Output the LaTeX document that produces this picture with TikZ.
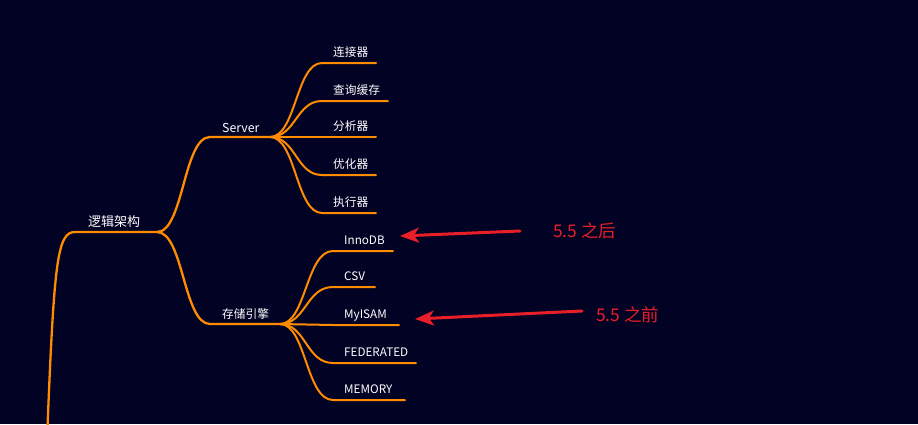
\documentclass[tikz,border=0pt]{standalone}
\usepackage{fontspec}
\setmainfont{Noto Sans CJK SC}
\usetikzlibrary{arrows.meta}
\definecolor{bg}{RGB}{2,2,36}
\definecolor{brc}{RGB}{255,140,0}
\definecolor{rdc}{RGB}{232,30,40}
\begin{document}
\begin{tikzpicture}[x=1pt,y=-1pt,
  branch/.style={draw=brc,line width=2.3pt,line cap=round},
  leaf/.style={draw=brc,line width=2pt,line cap=round},
  lbl/.style={anchor=base west,inner sep=0pt,text=white,font=\fontsize{11.7}{13}\selectfont},
  biglbl/.style={anchor=base west,inner sep=0pt,text=white,font=\fontsize{13}{15}\selectfont},
  note/.style={anchor=base west,inner sep=0pt,text=rdc,font=\fontsize{17.5}{19}\selectfont},
  pointer/.style={draw=rdc,line width=3pt,line cap=round,-{Stealth[length=19pt,width=15pt,inset=5pt]}}]
\useasboundingbox (0,0) rectangle (918,424);
\fill[bg] (0,0) rectangle (918,424);
\clip (0,0) rectangle (918,424);

% coordinates
\coordinate (r0) at (47,440);
\coordinate (r1) at (75,232);
\coordinate (r2) at (157,232);
\coordinate (s1) at (210,137);
\coordinate (s2) at (270,137);
\coordinate (e1) at (210,324);
\coordinate (e2) at (280,324);

% root and first level
\draw[branch] (r0) .. controls (54,262) and (57,232) .. (r1) -- (r2);
\draw[branch] (r2) .. controls (183.5,232) and (183.5,137) .. (s1) -- (s2);
\draw[branch] (r2) .. controls (183.5,232) and (183.5,324) .. (e1) -- (e2);

\node[biglbl] (root) at (88,226) {逻辑架构};
\node[lbl,font=\fontsize{12.3}{14}\selectfont] (server) at (222,132) {Server};
\node[lbl] (engine) at (222,318) {存储引擎};

% Server children
\foreach \y/\xe/\name/\txt in {63/376/c1/连接器,101/388/c2/查询缓存,175/376/c4/优化器,213/376/c5/执行器}{
  \coordinate (\name a) at (322,\y);
  \coordinate (\name b) at (\xe,\y);
  \draw[leaf] (s2) .. controls (296,137) and (296,\y) .. (\name a) -- (\name b);
  \node[lbl] (\name) at (333,\y-7) {\txt};
}
\coordinate (c3b) at (376,137);
\draw[leaf] (s2) -- (c3b);
\node[lbl] (c3) at (333,130) {分析器};

% Storage engine children
\foreach \y/\xe/\name/\txt in {251/393/d1/InnoDB,287/375/d2/CSV,363/416/d4/FEDERATED,400/405/d5/MEMORY}{
  \coordinate (\name a) at (333,\y);
  \coordinate (\name b) at (\xe,\y);
  \draw[leaf] (e2) .. controls (306,324) and (306,\y) .. (\name a) -- (\name b);
  \node[lbl] (\name) at (344,\y-7) {\txt};
}
\coordinate (d3b) at (399,325);
\draw[leaf] (e2) .. controls (306,324) and (306,325) .. (333,325) -- (d3b);
\node[lbl] (d3) at (344,318) {MyISAM};

% notes and arrows
\node[note] (after) at (553,237) {5.5 之后};
\node[note] (before) at (596,321) {5.5 之前};
\coordinate (a1t) at (520,231);
\coordinate (a1h) at (400,236);
\coordinate (a2t) at (582,311);
\coordinate (a2h) at (415,319);
\draw[pointer] (a1t) -- (a1h);
\draw[pointer] (a2t) -- (a2h);
\end{tikzpicture}
\end{document}
